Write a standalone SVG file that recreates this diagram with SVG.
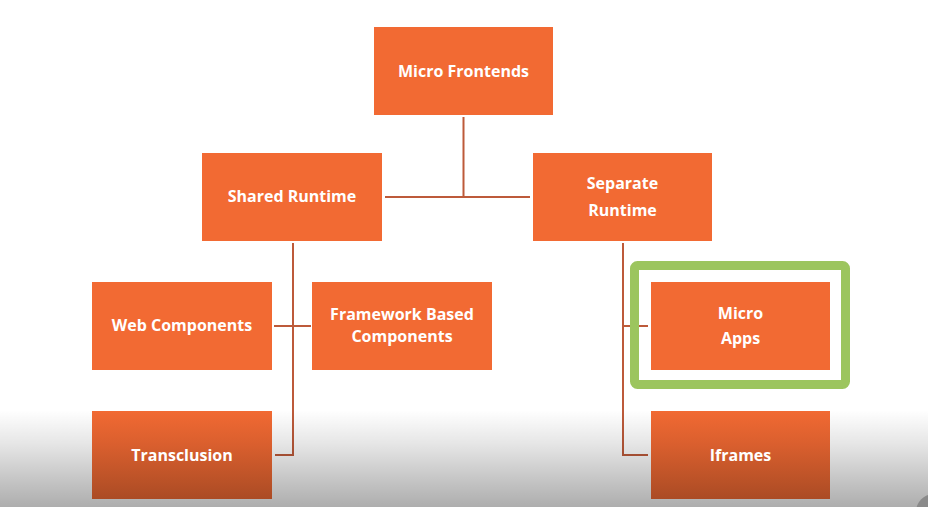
<svg xmlns="http://www.w3.org/2000/svg" width="928" height="507" viewBox="0 0 928 507">
<defs>
<style>
.box{fill:#f26a33}
.boxb{fill:url(#boxshade)}
.t{font-family:"Open Sans","Liberation Sans",sans-serif;font-weight:700;font-size:16px;fill:#fff;text-anchor:middle}
.c{stroke:#bd5a3a;stroke-width:2;fill:none}
</style>
<linearGradient id="shade" x1="0" y1="0" x2="0" y2="1">
<stop offset="0" stop-color="#000" stop-opacity="0"/>
<stop offset="0.35" stop-color="#000" stop-opacity="0.1"/>
<stop offset="0.7" stop-color="#000" stop-opacity="0.22"/>
<stop offset="1" stop-color="#000" stop-opacity="0.32"/>
</linearGradient>
<linearGradient id="boxshade" gradientUnits="userSpaceOnUse" x1="0" y1="410" x2="0" y2="507">
<stop offset="0" stop-color="#f26a33"/>
<stop offset="0.35" stop-color="#da5f2e"/>
<stop offset="0.7" stop-color="#bd5328"/>
<stop offset="1" stop-color="#a44823"/>
</linearGradient>
</defs>
<rect width="928" height="507" fill="#fff"/>
<g id="connectors">
<path class="c" d="M463.5 117V197M385 197H530"/>
<path class="c" d="M293 243V455H275M274 326H311"/>
<path class="c" d="M623 243V455H648M623 326H648"/>
</g>
<g id="micro-frontends"><rect class="box" x="374" y="27" width="179" height="88"/><text class="t" x="463.5" y="77">Micro Frontends</text></g>
<g id="shared-runtime"><rect class="box" x="202" y="153" width="180" height="88"/><text class="t" x="292" y="202">Shared Runtime</text></g>
<g id="separate-runtime"><rect class="box" x="533" y="153" width="179" height="88"/><text class="t" x="622.5" y="189">Separate</text><text class="t" x="622.5" y="216">Runtime</text></g>
<g id="web-components"><rect class="box" x="92" y="282" width="180" height="88"/><text class="t" x="182" y="331">Web Components</text></g>
<g id="framework-based"><rect class="box" x="312" y="282" width="180" height="88"/><text class="t" x="402" y="320">Framework Based</text><text class="t" x="402" y="342">Components</text></g>
<g id="micro-apps-highlight"><rect x="634.5" y="265.5" width="211" height="119" rx="3" fill="none" stroke="#9cc55e" stroke-width="9"/></g>
<g id="micro-apps"><rect class="box" x="651" y="282" width="179" height="88"/><text class="t" x="740.5" y="319">Micro</text><text class="t" x="740.5" y="344">Apps</text></g>
<rect x="0" y="410" width="928" height="97" fill="url(#shade)"/>
<g id="transclusion"><rect class="boxb" x="92" y="411" width="180" height="88"/><text class="t" x="182" y="461">Transclusion</text></g>
<g id="iframes"><rect class="boxb" x="651" y="411" width="179" height="88"/><text class="t" x="740.5" y="461">Iframes</text></g>
<circle cx="934" cy="512" r="18" fill="#8a8a8a"/>
</svg>
